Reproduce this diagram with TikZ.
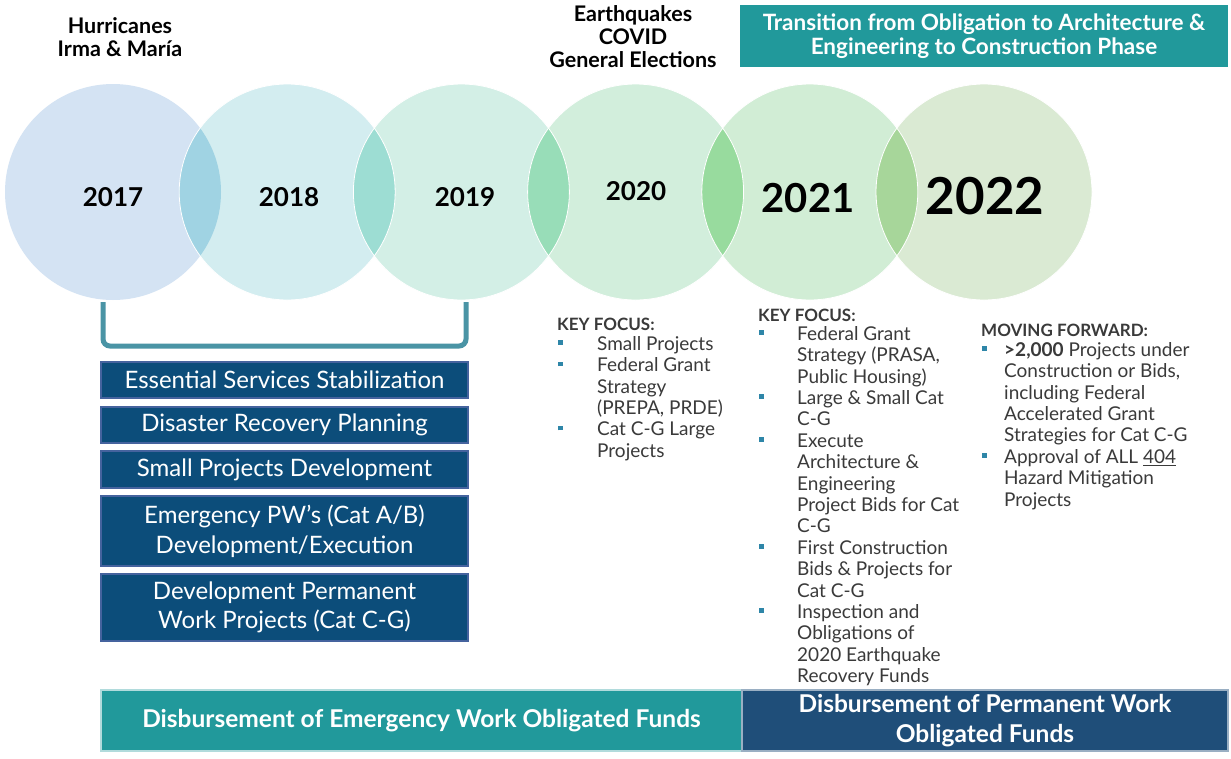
\documentclass[tikz,border=0pt]{standalone}
\usepackage{fontspec}
\setmainfont{Lato}
\usepackage{xcolor}
\usetikzlibrary{positioning}

\definecolor{circA}{HTML}{D4E3F3}
\definecolor{circB}{HTML}{D3EDF0}
\definecolor{circC}{HTML}{D3EFE6}
\definecolor{circD}{HTML}{D2EEDC}
\definecolor{circE}{HTML}{D1EDD5}
\definecolor{circF}{HTML}{DAEAD3}
\definecolor{lensA}{HTML}{A0D3E3}
\definecolor{lensB}{HTML}{9DDDD3}
\definecolor{lensC}{HTML}{98DDB8}
\definecolor{lensD}{HTML}{98DB9E}
\definecolor{lensE}{HTML}{A7D69A}
\definecolor{tealbar}{HTML}{21999B}
\definecolor{boxblue}{HTML}{0C4D7A}
\definecolor{boxedge}{HTML}{45639E}
\definecolor{permblue}{HTML}{1F4E79}
\definecolor{bracketc}{HTML}{4A94A5}
\definecolor{bulletc}{HTML}{2E86A8}
\definecolor{bodytxt}{HTML}{3A3A3A}

\newcommand\kbul[1]{\makebox[#1][l]{\textcolor{bulletc}{\rule[5.5pt]{4.5pt}{4.5pt}}}}
\newcommand\kgap[1]{\hspace*{#1}}

\tikzset{
  yearcirc/.style={circle,minimum size=216pt,inner sep=0pt},
  yeartxt/.style={font=\bfseries\fontsize{26}{30}\selectfont,text=black},
  topnote/.style={font=\bfseries\fontsize{21.5}{23}\selectfont,align=center,text=black},
  workbox/.style={draw=boxedge,line width=1.4pt,fill=boxblue,text=white,
    minimum width=367pt,align=center,font=\fontsize{24}{29.5}\selectfont},
  fundbar/.style={line width=1.4pt,text=white,align=center,
    minimum height=61pt,font=\bfseries\fontsize{24.5}{30}\selectfont},
  headtxt/.style={font=\bfseries\fontsize{17}{20}\selectfont,text=bodytxt,inner sep=0pt},
  listtxt/.style={font=\fontsize{19}{21.4}\selectfont,text=bodytxt,align=left,inner sep=0pt}
}

\begin{document}
\begin{tikzpicture}[x=1pt,y=-1pt]
  \useasboundingbox[fill=white] (0,0) rectangle (1231,758);

  % year circles
  \node[yearcirc,fill=circA] (c2017) at (113,192) {};
  \node[yearcirc,fill=circB] (c2018) at (287.2,192) {};
  \node[yearcirc,fill=circC] (c2019) at (461.4,192) {};
  \node[yearcirc,fill=circD] (c2020) at (635.6,192) {};
  \node[yearcirc,fill=circE] (c2021) at (809.8,192) {};
  \node[yearcirc,fill=circF] (c2022) at (984,192) {};

  % overlaps
  \begin{scope}
    \clip (c2017.center) circle (108pt);
    \fill[lensA] (c2018.center) circle (108pt);
  \end{scope}
  \begin{scope}
    \clip (c2018.center) circle (108pt);
    \fill[lensB] (c2019.center) circle (108pt);
  \end{scope}
  \begin{scope}
    \clip (c2019.center) circle (108pt);
    \fill[lensC] (c2020.center) circle (108pt);
  \end{scope}
  \begin{scope}
    \clip (c2020.center) circle (108pt);
    \fill[lensD] (c2021.center) circle (108pt);
  \end{scope}
  \begin{scope}
    \clip (c2021.center) circle (108pt);
    \fill[lensE] (c2022.center) circle (108pt);
  \end{scope}
  \begin{scope}[every path/.style={draw=white,line width=0.8pt}]
    \draw (c2018.center) circle (108pt);
    \draw (c2019.center) circle (108pt);
    \draw (c2020.center) circle (108pt);
    \draw (c2021.center) circle (108pt);
    \draw (c2022.center) circle (108pt);
  \end{scope}

  \node[yeartxt] (y2017) at (113,197) {2017};
  \node[yeartxt] (y2018) at (289,197) {2018};
  \node[yeartxt] (y2019) at (465,197) {2019};
  \node[yeartxt] (y2020) at (636,191) {2020};
  \node[yeartxt,font=\bfseries\fontsize{40}{44}\selectfont] (y2021) at (808,198) {2021};
  \node[yeartxt,font=\bfseries\fontsize{51}{56}\selectfont] (y2022) at (985,196) {2022};

  % events above
  \node[topnote] (hurr) at (120,37) {Hurricanes\\Irma \& María};
  \node[topnote] (quake) at (633,37) {Earthquakes\\COVID\\General Elections};
  \node[fill=tealbar,minimum width=488pt,minimum height=62pt,text=white,align=center,
        font=\bfseries\fontsize{22.5}{24}\selectfont] (trans) at (984,36)
        {Transition from Obligation to Architecture \&\\Engineering to Construction Phase};

  % bracket 2017-2019
  \coordinate (brL) at (103,302);
  \coordinate (brR) at (466,302);
  \draw[bracketc,line width=5pt,rounded corners=7pt] (brL) -- ++(0,44) -| (brR);

  % work boxes
  \node[workbox,minimum height=36pt] (ess) at (284.5,380) {Essential Services Stabilization};
  \node[workbox,minimum height=36pt] (drp) at (284.5,425) {Disaster Recovery Planning};
  \node[workbox,minimum height=37pt] (spd) at (284.5,469.5) {Small Projects Development};
  \node[workbox,minimum height=70pt] (epw) at (284.5,531) {Emergency PW’s (Cat A/B)\\Development/Execution};
  \node[workbox,minimum height=67pt] (dpw) at (284.5,607.5) {Development Permanent\\Work Projects (Cat C-G)};

  % key focus 2020
  \node[headtxt,anchor=base west] (kf1) at (557,330) {KEY FOCUS:};
  \node[listtxt,anchor=north west] (kl1) at (558,336) {%
    \kbul{39pt}Small Projects\\
    \kbul{39pt}Federal Grant\\
    \kgap{39pt}Strategy\\
    \kgap{39pt}(PREPA, PRDE)\\
    \kbul{39pt}Cat C-G Large\\
    \kgap{39pt}Projects};

  % key focus 2021
  \node[headtxt,anchor=base west] (kf2) at (758,321) {KEY FOCUS:};
  \node[listtxt,anchor=north west] (kl2) at (759,326) {%
    \kbul{38pt}Federal Grant\\
    \kgap{38pt}Strategy (PRASA,\\
    \kgap{38pt}Public Housing)\\
    \kbul{38pt}Large \& Small Cat\\
    \kgap{38pt}C-G\\
    \kbul{38pt}Execute\\
    \kgap{38pt}Architecture \&\\
    \kgap{38pt}Engineering\\
    \kgap{38pt}Project Bids for Cat\\
    \kgap{38pt}C-G\\
    \kbul{38pt}First Construction\\
    \kgap{38pt}Bids \& Projects for\\
    \kgap{38pt}Cat C-G\\
    \kbul{38pt}Inspection and\\
    \kgap{38pt}Obligations of\\
    \kgap{38pt}2020 Earthquake\\
    \kgap{38pt}Recovery Funds};

  % moving forward 2022
  \node[headtxt,anchor=base west] (mf) at (981,336) {MOVING FORWARD:};
  \node[listtxt,anchor=north west] (ml) at (982,342) {%
    \kbul{22pt}\textbf{>2,000} Projects under\\
    \kgap{22pt}Construction or Bids,\\
    \kgap{22pt}including Federal\\
    \kgap{22pt}Accelerated Grant\\
    \kgap{22pt}Strategies for Cat C-G\\
    \kbul{22pt}Approval of ALL \underline{404}\\
    \kgap{22pt}Hazard Mitigation\\
    \kgap{22pt}Projects};

  % funds bars
  \node[fundbar,fill=tealbar,draw=tealbar!35!white,minimum width=641pt] (emfund) at (421.5,720.5)
        {Disbursement of Emergency Work Obligated Funds};
  \node[fundbar,fill=permblue,draw=permblue!45!white,minimum width=486pt] (pmfund) at (985,720.5)
        {Disbursement of Permanent Work\\Obligated Funds};
\end{tikzpicture}
\end{document}
